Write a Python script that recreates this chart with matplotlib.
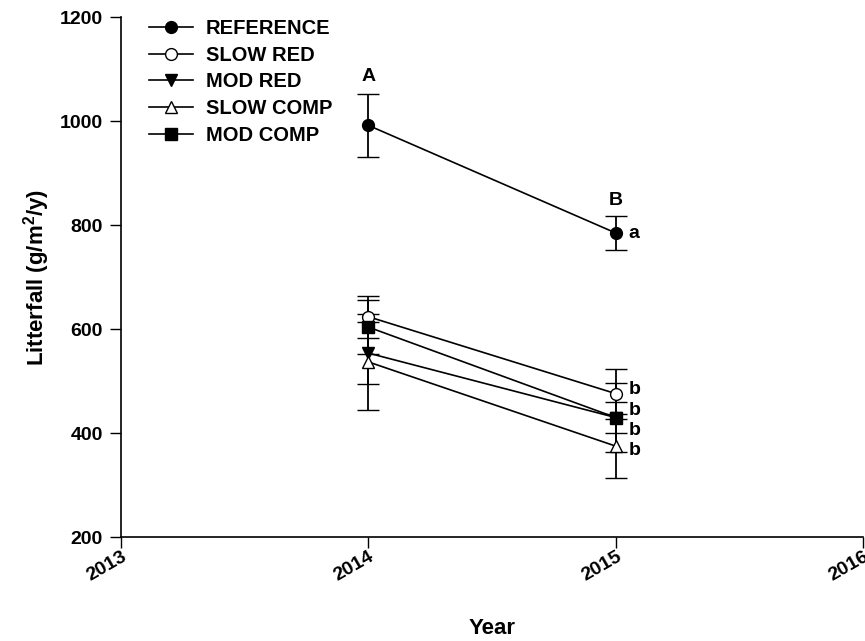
import matplotlib
matplotlib.use("Agg")
import matplotlib.pyplot as plt
from matplotlib.lines import Line2D
import numpy as np

plt.rcParams['font.family'] = ['Liberation Sans', 'DejaVu Sans']
plt.rcParams['font.weight'] = 'bold'
plt.rcParams['mathtext.fontset'] = 'custom'
plt.rcParams['mathtext.rm'] = 'Liberation Sans:bold'
plt.rcParams['mathtext.it'] = 'Liberation Sans:bold'
plt.rcParams['mathtext.bf'] = 'Liberation Sans:bold'

years = [2014, 2015]
series_names = ["REFERENCE", "SLOW RED", "MOD RED", "SLOW COMP", "MOD COMP"]
reference = [992, 785]
reference_err = [60, 33]
slow_red = [624, 476]
slow_red_err = [40, 48]
mod_red = [554, 430]
mod_red_err = [60, 30]
slow_comp = [537, 375]
slow_comp_err = [93, 62]
mod_comp = [604, 430]
mod_comp_err = [52, 67]

upper_letters = ["A", "B"]
upper_letter_y = [1070, 832]
lower_letters = ["a", "b", "b", "b", "b"]
lower_letter_y = [785, 484, 444, 406, 367]

xticks = [2013, 2014, 2015, 2016]
yticks = [200, 400, 600, 800, 1000, 1200]

fig = plt.figure(figsize=(8.65, 6.41), dpi=100)
ax = fig.add_axes([0.140, 0.162, 0.858, 0.811])

styles = [
    dict(marker='o', mfc='black'),
    dict(marker='o', mfc='white'),
    dict(marker='v', mfc='black'),
    dict(marker='^', mfc='white'),
    dict(marker='s', mfc='black'),
]
data = [(reference, reference_err), (slow_red, slow_red_err), (mod_red, mod_red_err),
        (slow_comp, slow_comp_err), (mod_comp, mod_comp_err)]

handles = []
for name, (vals, errs), st in zip(series_names, data, styles):
    ax.errorbar(years, vals, yerr=errs, color='black', lw=1.2, elinewidth=1.3,
                capsize=8, capthick=1.3, marker=st['marker'], mfc=st['mfc'],
                mec='black', mew=1.0, ms=8.5)
    handles.append(Line2D([], [], color='black', lw=1.2, marker=st['marker'],
                          mfc=st['mfc'], mec='black', mew=1.0, ms=8.5, label=name))

for yr, lab, yv in zip(years, upper_letters, upper_letter_y):
    ax.text(yr, yv, lab, ha='center', va='bottom', fontsize=14, fontweight='bold')
for lab, yv in zip(lower_letters, lower_letter_y):
    ax.text(2015.05, yv, lab, ha='left', va='center', fontsize=14, fontweight='bold')

ax.set_xlim(2013, 2016)
ax.set_ylim(200, 1200)
ax.set_xticks(xticks)
ax.set_xticklabels([str(t) for t in xticks], rotation=30, ha='right', va='top',
                   rotation_mode='anchor', fontsize=14, fontweight='bold')
ax.set_yticks(yticks)
ax.set_yticklabels([str(t) for t in yticks], fontsize=14, fontweight='bold')
ax.tick_params(axis='y', direction='out', length=8, width=1.0, pad=5)
ax.tick_params(axis='x', direction='out', length=8, width=1.0, pad=0)
ax.spines['top'].set_visible(False)
ax.spines['right'].set_visible(False)
for s in ['left', 'bottom']:
    ax.spines[s].set_linewidth(1.2)

ax.set_ylabel(r"Litterfall (g/m$^2$/y)", fontsize=16, fontweight='bold', labelpad=6)
ax.set_xlabel("Year", fontsize=16, fontweight='bold', va='center')
ax.xaxis.set_label_coords(0.5, -0.175)

leg = ax.legend(handles=handles, loc='upper left', bbox_to_anchor=(0.027, 1.012),
                frameon=False, prop={'weight': 'bold', 'size': 14.5},
                handlelength=2.2, labelspacing=0.38, handletextpad=0.6,
                borderaxespad=0.0)

fig.savefig("out.png", dpi=100)
